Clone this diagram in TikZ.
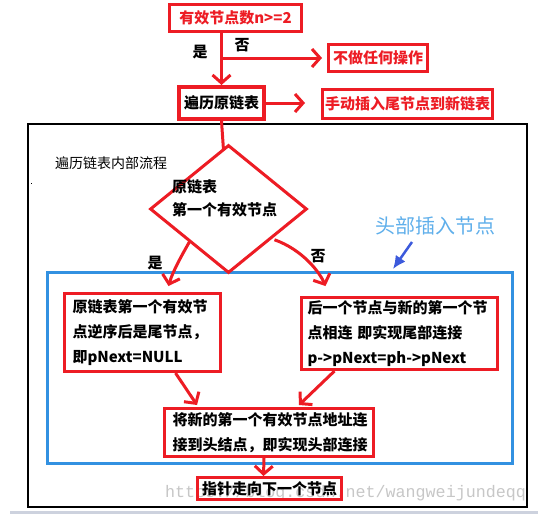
\documentclass[tikz,border=0pt]{standalone}
\usepackage{fontspec}
\setmainfont{Noto Sans CJK SC}
\newfontfamily\wmfont{Liberation Mono}
\usetikzlibrary{arrows.meta,shapes.geometric}
\definecolor{pred}{RGB}{237,28,36}
\definecolor{pblue}{RGB}{50,145,225}
\definecolor{plblue}{RGB}{95,175,235}
\definecolor{parrow}{RGB}{60,90,220}
\definecolor{pstrip}{RGB}{205,210,222}
\tikzset{
  rbox/.style={draw=pred, line width=3pt, inner sep=0pt, anchor=north west, font=\fontsize{15}{25}\selectfont\bfseries},
  redtxt/.style={text=pred},
  multi/.style={align=left, inner xsep=8pt},
  rline/.style={draw=pred, line width=3pt},
  rarr/.style={rline, -{Straight Barb[length=8pt,width=18pt,line width=3pt]}},
  lbl/.style={font=\fontsize{15}{18}\selectfont\bfseries, inner sep=0pt},
}
\begin{document}
\begin{tikzpicture}[x=1pt,y=-1pt]
\useasboundingbox (0,0) rectangle (538,514);
\fill[white] (0,0) rectangle (538,514);
% bottom strip
\fill[pstrip] (10,511) rectangle (538,514);
% outer frame
\draw[line width=2.5pt] (28,124) rectangle (527,507);
% watermark
\node[font=\wmfont\fontsize{16.7}{18}\selectfont, text=black!22, anchor=west, inner sep=0pt] (wm) at (165,493) {https://blog.csdn.net/wangweijundeqq};
% blue frame
\draw[pblue, line width=3pt] (47,272) rectangle (512,463);
% top boxes
\node[rbox, redtxt, minimum width=132pt, minimum height=27pt] (n1) at (168,3) {有效节点数n>=2};
\node[rbox, redtxt, minimum width=99pt, minimum height=27pt] (no) at (327,43) {不做任何操作};
\node[rbox, line width=4pt, minimum width=85pt, minimum height=32pt] (trav) at (177,85) {遍历原链表};
\node[rbox, redtxt, minimum width=170pt, minimum height=29pt] (manual) at (321,88) {手动插入尾节点到新链表};
% connectors top
\coordinate (top) at (n1.south -| trav.north);
\draw[rarr] (top) -- (trav.north);
\coordinate (br) at (trav.north |- no.west);
\draw[rarr, shorten >=5pt] (br) -- (no.west);
\draw[rarr, shorten >=16pt] (trav.east) -- (trav.east -| manual.west);
\node[lbl] (yes1) at (200,52) {是};
\node[lbl] (no1) at (242,45) {否};
% inner title
\node[font=\fontsize{14}{16}\selectfont, anchor=west, inner sep=0pt] (title) at (55,163) {遍历链表内部流程};
\fill (30.5,182.5) rectangle (32,184);
% diamond
\node[draw=pred, line width=3pt, shape=diamond, minimum width=157pt, minimum height=128pt, inner sep=0pt] (d) at (228.5,209) {};
\node[lbl, anchor=west, align=left, font=\fontsize{15}{23}\selectfont\bfseries] (dt) at (172,198.5) {原链表\\第一个有效节点};
\draw[rline] (trav.south) -- ([xshift=2pt]trav.south |- 0,150);
% labels
\node[lbl] (yes2) at (155,263) {是};
\node[lbl] (no2) at (318,256) {否};
\node[font=\fontsize{20}{22}\selectfont, text=plblue, inner sep=0pt] (head) at (435,226) {头部插入节点};
\coordinate (ba1) at (412,242);
\coordinate (ba2) at (393,269);
\draw[parrow, line width=2.5pt, -{Latex[length=13pt,width=12pt]}] (ba1) -- (ba2);
% boxes inside
\node[rbox, multi, text width=140pt, minimum height=78pt] (L) at (63,292) {原链表第一个有效节\\点逆序后是尾节点，\\即pNext=NULL};
\node[rbox, multi, inner xsep=6pt, text width=184pt, minimum height=72pt] (R) at (300,296) {后一个节点与新的第一个节\\点相连 即实现尾部连接\\p->pNext=ph->pNext};
\node[rbox, multi, inner xsep=8pt, text width=193pt, minimum height=48pt] (M) at (163,407) {将新的第一个有效节点地址连\\接到头结点，即实现头部连接};
\node[rbox, minimum width=144pt, minimum height=22pt] (next) at (196,476) {指针走向下一个节点};
% curved connectors
\draw[rarr] ([xshift=1pt]d.south west) .. controls +(-8,14) and +(4,-14) .. ([xshift=26pt,yshift=6pt]L.north);
\draw[rarr] ([xshift=6pt,yshift=2pt]d.south east) .. controls +(28,10) and +(-6,-14) .. ([xshift=-74pt,yshift=10pt]R.north);
\draw[rarr] ([xshift=33pt]L.south) -- ([xshift=-72pt,yshift=2pt]M.north);
\draw[rarr] ([xshift=-65pt]R.south) -- ([xshift=30pt,yshift=2pt]M.north);
\draw[rarr] ([xshift=-5pt]M.south) -- ([xshift=-6pt]next.north);
\end{tikzpicture}
\end{document}
